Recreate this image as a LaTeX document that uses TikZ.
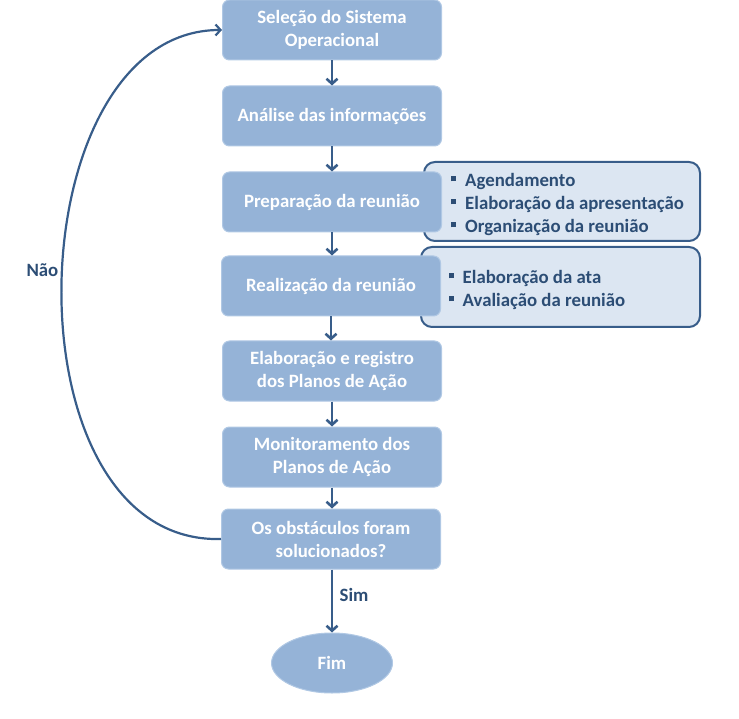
\documentclass[tikz,border=0pt]{standalone}
\usepackage{fontspec}
\setmainfont{Carlito}
\usetikzlibrary{shapes.geometric,arrows.meta}
\definecolor{caixa}{RGB}{149,179,215}
\definecolor{caixaborda}{RGB}{176,200,228}
\definecolor{nota}{RGB}{220,230,242}
\definecolor{azul}{RGB}{56,93,138}
\definecolor{texto}{RGB}{44,77,117}
\newcommand{\marcador}{\raisebox{0.25em}{\rule{5pt}{5pt}}\hspace{9pt}}

\begin{document}
\begin{tikzpicture}[x=1pt,y=-1pt,font=\fontsize{18.8}{23}\selectfont\bfseries]
			\tikzset{etapa/.style={draw=caixaborda,line width=1pt,fill=caixa,rounded corners=7pt,minimum width=219pt,minimum height=60pt,align=center,text=white,inner sep=2pt},
				lista/.style={draw=azul,line width=2pt,fill=nota,rounded corners=11pt},
				itens/.style={align=left,text=texto,inner sep=0pt,anchor=west},
				seta/.style={draw=azul,line width=2.6pt,-{Straight Barb[length=5pt,width=11pt]}},
				rotulo/.style={text=texto}}
			\useasboundingbox (0,0) rectangle (739,719);
			% listas laterais (por tras das etapas)
			\node[lista,minimum width=276pt,minimum height=79pt] (listaA) at (562,201.5) {};
			\node[lista,minimum width=279pt,minimum height=80pt] (listaB) at (560.5,287) {};
			\node[itens] (itensA) at (451,204) {\marcador Agendamento\\\marcador Elaboração da apresentação\\\marcador Organização da reunião};
			\node[itens] (itensB) at (448.5,289.5) {\marcador Elaboração da ata\\\marcador Avaliação da reunião};
			% etapas
			\node[etapa] (selecao) at (332,30) {Seleção do Sistema\\Operacional};
			\node[etapa] (analise) at (332,116) {Análise das informações};
			\node[etapa] (preparacao) at (332,202) {Preparação da reunião};
			\node[etapa] (realizacao) at (331,286) {Realização da reunião};
			\node[etapa] (elaboracao) at (332,371) {Elaboração e registro\\dos Planos de Ação};
			\node[etapa] (monitoramento) at (332,457) {Monitoramento dos\\Planos de Ação};
			\node[etapa] (obstaculos) at (331,539) {Os obstáculos foram\\solucionados?};
			\node[etapa,ellipse,rounded corners=0pt,minimum width=121pt,minimum height=60pt,inner sep=0pt] (fim) at (332,663) {Fim};
			% setas
			\draw[seta] (selecao) -- (analise);
			\draw[seta] (analise) -- (preparacao);
			\draw[seta] (preparacao) -- (preparacao|-realizacao.north);
			\draw[seta] (realizacao) -- (realizacao|-elaboracao.north);
			\draw[seta] (elaboracao) -- (monitoramento);
			\draw[seta] (monitoramento) -- (monitoramento|-obstaculos.north);
			\draw[seta] (obstaculos.south-|fim) -- node[rotulo,right,xshift=3pt,yshift=6pt] (sim) {Sim} (fim);
			\draw[seta,line width=2.2pt] (obstaculos.west) .. controls (2,545) and (15,30) .. (selecao.west) node[rotulo,pos=0.5,left,xshift=1pt,yshift=17pt] (nao) {Não};
		\end{tikzpicture}
\end{document}
